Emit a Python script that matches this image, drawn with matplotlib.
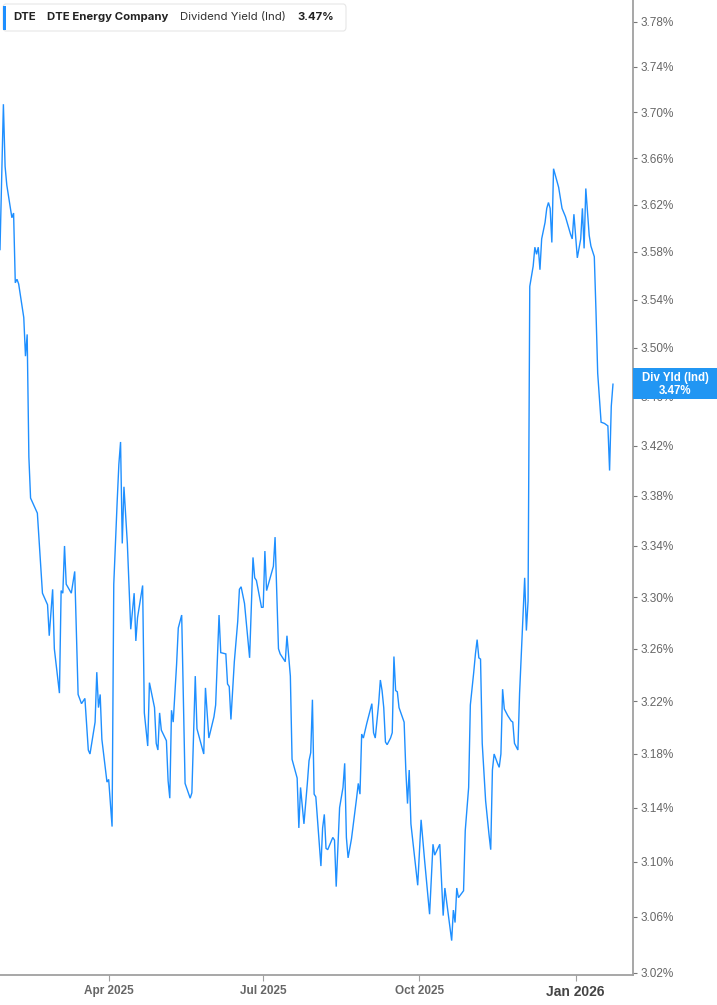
import matplotlib
matplotlib.use("Agg")
import matplotlib.pyplot as plt
import matplotlib.ticker as mticker
from matplotlib.patches import Rectangle, FancyBboxPatch
import pandas as pd
import datetime as dt

plt.rcParams['font.family'] = ['Liberation Sans Narrow', 'Liberation Sans', 'DejaVu Sans']

dates = [
    "2025-01-27", "2025-01-29", "2025-01-30", "2025-01-31", "2025-02-03", "2025-02-04", "2025-02-05", "2025-02-06",
    "2025-02-07", "2025-02-10", "2025-02-11", "2025-02-12", "2025-02-13", "2025-02-14", "2025-02-18", "2025-02-21",
    "2025-02-24", "2025-02-25", "2025-02-27", "2025-02-28", "2025-03-03", "2025-03-04", "2025-03-05", "2025-03-06",
    "2025-03-07", "2025-03-10", "2025-03-12", "2025-03-14", "2025-03-16", "2025-03-18", "2025-03-20", "2025-03-21",
    "2025-03-24", "2025-03-25", "2025-03-26", "2025-03-27", "2025-03-28", "2025-03-31", "2025-04-01", "2025-04-03",
    "2025-04-04", "2025-04-06", "2025-04-07", "2025-04-08", "2025-04-09", "2025-04-10", "2025-04-12", "2025-04-14",
    "2025-04-16", "2025-04-17", "2025-04-18", "2025-04-21", "2025-04-22", "2025-04-24", "2025-04-25", "2025-04-28",
    "2025-04-29", "2025-04-30", "2025-05-01", "2025-05-02", "2025-05-05", "2025-05-06", "2025-05-07", "2025-05-08",
    "2025-05-09", "2025-05-11", "2025-05-12", "2025-05-14", "2025-05-16", "2025-05-19", "2025-05-20", "2025-05-22",
    "2025-05-23", "2025-05-27", "2025-05-28", "2025-05-30", "2025-06-02", "2025-06-03", "2025-06-05", "2025-06-06",
    "2025-06-09", "2025-06-10", "2025-06-11", "2025-06-12", "2025-06-14", "2025-06-16", "2025-06-17", "2025-06-18",
    "2025-06-20", "2025-06-23", "2025-06-25", "2025-06-26", "2025-06-27", "2025-06-30", "2025-07-01", "2025-07-02",
    "2025-07-03", "2025-07-07", "2025-07-08", "2025-07-10", "2025-07-11", "2025-07-14", "2025-07-15", "2025-07-17",
    "2025-07-18", "2025-07-21", "2025-07-22", "2025-07-23", "2025-07-25", "2025-07-27", "2025-07-28", "2025-07-29",
    "2025-07-30", "2025-07-31", "2025-08-01", "2025-08-04", "2025-08-05", "2025-08-06", "2025-08-07", "2025-08-08",
    "2025-08-10", "2025-08-11", "2025-08-12", "2025-08-13", "2025-08-15", "2025-08-17", "2025-08-18", "2025-08-19",
    "2025-08-20", "2025-08-22", "2025-08-25", "2025-08-26", "2025-08-27", "2025-08-28", "2025-08-29", "2025-08-31",
    "2025-09-03", "2025-09-04", "2025-09-05", "2025-09-07", "2025-09-08", "2025-09-09", "2025-09-10", "2025-09-11",
    "2025-09-12", "2025-09-14", "2025-09-15", "2025-09-16", "2025-09-17", "2025-09-18", "2025-09-19", "2025-09-22",
    "2025-09-23", "2025-09-24", "2025-09-25", "2025-09-26", "2025-09-30", "2025-10-02", "2025-10-04", "2025-10-07",
    "2025-10-09", "2025-10-10", "2025-10-13", "2025-10-15", "2025-10-16", "2025-10-20", "2025-10-21", "2025-10-22",
    "2025-10-23", "2025-10-24", "2025-10-27", "2025-10-28", "2025-10-30", "2025-10-31", "2025-11-02", "2025-11-03",
    "2025-11-04", "2025-11-05", "2025-11-06", "2025-11-07", "2025-11-09", "2025-11-11", "2025-11-12", "2025-11-13",
    "2025-11-14", "2025-11-16", "2025-11-17", "2025-11-18", "2025-11-19", "2025-11-20", "2025-11-22", "2025-11-24",
    "2025-11-25", "2025-11-26", "2025-11-28", "2025-11-29", "2025-12-02", "2025-12-03", "2025-12-04", "2025-12-05",
    "2025-12-07", "2025-12-08", "2025-12-09", "2025-12-10", "2025-12-11", "2025-12-12", "2025-12-14", "2025-12-15",
    "2025-12-16", "2025-12-17", "2025-12-18", "2025-12-19", "2025-12-22", "2025-12-24", "2025-12-26", "2025-12-29",
    "2025-12-30", "2025-12-31", "2026-01-02", "2026-01-04", "2026-01-05", "2026-01-06", "2026-01-07", "2026-01-09",
    "2026-01-10", "2026-01-12", "2026-01-13", "2026-01-14", "2026-01-16", "2026-01-18", "2026-01-20", "2026-01-21",
    "2026-01-22", "2026-01-23",
]

div_yield = [
    3.582, 3.707, 3.653, 3.637, 3.609, 3.613, 3.554, 3.557,
    3.553, 3.525, 3.493, 3.511, 3.411, 3.378, 3.366, 3.303,
    3.294, 3.270, 3.306, 3.260, 3.226, 3.305, 3.303, 3.340,
    3.310, 3.303, 3.320, 3.225, 3.218, 3.222, 3.183, 3.180,
    3.204, 3.242, 3.215, 3.225, 3.191, 3.159, 3.161, 3.126,
    3.310, 3.375, 3.405, 3.423, 3.342, 3.387, 3.342, 3.275,
    3.303, 3.266, 3.284, 3.309, 3.211, 3.186, 3.234, 3.215,
    3.188, 3.183, 3.211, 3.198, 3.190, 3.160, 3.147, 3.213,
    3.204, 3.248, 3.276, 3.286, 3.158, 3.147, 3.151, 3.239,
    3.199, 3.180, 3.230, 3.192, 3.208, 3.217, 3.286, 3.257,
    3.256, 3.233, 3.231, 3.206, 3.250, 3.281, 3.306, 3.308,
    3.295, 3.253, 3.331, 3.315, 3.313, 3.292, 3.292, 3.336,
    3.305, 3.324, 3.347, 3.260, 3.256, 3.250, 3.270, 3.239,
    3.176, 3.162, 3.125, 3.155, 3.128, 3.158, 3.175, 3.181,
    3.221, 3.150, 3.148, 3.097, 3.125, 3.135, 3.110, 3.109,
    3.115, 3.118, 3.116, 3.082, 3.140, 3.155, 3.173, 3.118,
    3.103, 3.117, 3.147, 3.158, 3.150, 3.195, 3.192, 3.203,
    3.218, 3.196, 3.192, 3.218, 3.236, 3.228, 3.215, 3.189,
    3.187, 3.192, 3.196, 3.254, 3.228, 3.227, 3.215, 3.204,
    3.168, 3.143, 3.168, 3.128, 3.083, 3.131, 3.102, 3.062,
    3.113, 3.105, 3.113, 3.061, 3.081, 3.043, 3.065, 3.056,
    3.081, 3.074, 3.079, 3.123, 3.155, 3.217, 3.242, 3.256,
    3.267, 3.253, 3.252, 3.188, 3.145, 3.120, 3.109, 3.168,
    3.180, 3.173, 3.170, 3.180, 3.229, 3.214, 3.209, 3.205,
    3.204, 3.188, 3.183, 3.226, 3.315, 3.274, 3.297, 3.551,
    3.568, 3.584, 3.578, 3.584, 3.565, 3.591, 3.605, 3.617,
    3.622, 3.617, 3.588, 3.651, 3.635, 3.617, 3.610, 3.595,
    3.591, 3.612, 3.575, 3.591, 3.617, 3.583, 3.634, 3.594,
    3.585, 3.576, 3.530, 3.479, 3.439, 3.438, 3.436, 3.400,
    3.452, 3.470,
]

y_ticks = [3.02, 3.06, 3.10, 3.14, 3.18, 3.22, 3.26, 3.30, 3.34, 3.38,
           3.42, 3.46, 3.50, 3.54, 3.58, 3.62, 3.66, 3.70, 3.74, 3.78]
x_tick_dates = ["2025-04-01", "2025-07-01", "2025-10-01", "2026-01-01"]
x_tick_labels = ["Apr 2025", "Jul 2025", "Oct 2025", "Jan 2026"]

ticker_sym = "DTE"
company = "DTE Energy Company"
metric = "Dividend Yield (Ind)"
last_label = "3.47%"

LINE = "#1E8FFF"
GREY = "#666666"

W, H = 717, 1005
fig = plt.figure(figsize=(W / 100, H / 100), dpi=100)
ax = fig.add_axes([0, 30 / H, 632.5 / W, 1 - 30 / H])

x = pd.to_datetime(dates)
ax.plot(x, div_yield, color=LINE, lw=1.0, solid_joinstyle='miter')

ax.set_yscale('log')
ax.set_ylim(3.0184, 3.7993)
ax.set_xlim(dt.datetime(2025, 1, 27), dt.datetime(2026, 2, 3, 12))

ax.yaxis.set_major_locator(mticker.FixedLocator(y_ticks))
ax.yaxis.set_minor_locator(mticker.NullLocator())
ax.yaxis.set_major_formatter(mticker.FixedFormatter([f"{v:.2f}%" for v in y_ticks]))
ax.yaxis.set_minor_formatter(mticker.NullFormatter())
ax.yaxis.tick_right()

ax.set_xticks(pd.to_datetime(x_tick_dates))
ax.set_xticklabels(x_tick_labels)

for s in ['left', 'top']:
    ax.spines[s].set_visible(False)
for s in ['right', 'bottom']:
    ax.spines[s].set_color('#a0a0a0')
    ax.spines[s].set_linewidth(1.3)

ax.tick_params(axis='y', which='major', direction='out', length=3, width=0.8,
               color='#777777', labelsize=8.5, labelcolor=GREY, pad=3)
ax.tick_params(axis='x', which='major', direction='out', length=4, width=0.8,
               color='#a0a0a0', labelsize=8.5, labelcolor=GREY, pad=3)
for lbl in ax.get_xticklabels():
    lbl.set_fontweight('bold')
ax.get_xticklabels()[-1].set_color('#444444')
ax.get_xticklabels()[-1].set_fontsize(10)

# header box
hdr = FancyBboxPatch((3 / W, 1 - 31 / H), 343 / W, 27 / H,
                     boxstyle="round,pad=0,rounding_size=0.004",
                     transform=fig.transFigure, facecolor='white',
                     edgecolor='#e6e6e6', lw=0.8, zorder=10)
fig.add_artist(hdr)
fig.add_artist(Rectangle((3 / W, 1 - 30 / H), 3 / W, 24 / H, transform=fig.transFigure,
                         facecolor=LINE, edgecolor='none', zorder=11))
hfont = ['Inter', 'DejaVu Sans']
ty = 1 - 17 / H
fig.text(13 / W, ty, ticker_sym, fontsize=8.2, fontweight='bold', color='#222222',
         va='center', family=hfont, zorder=12)
fig.text(47 / W, ty, company, fontsize=8.2, fontweight='bold', color='#222222',
         va='center', family=hfont, zorder=12)
fig.text(180 / W, ty, metric, fontsize=8.2, color='#333333',
         va='center', family=hfont, zorder=12)
fig.text(297 / W, ty, last_label, fontsize=8.2, fontweight='bold', color='#222222',
         va='center', family=hfont, zorder=12)

# last value label on the axis
fig.add_artist(Rectangle((633 / W, 1 - 399 / H), 84 / W, 31 / H, transform=fig.transFigure,
                         facecolor='#2196F3', edgecolor='none', zorder=10))
fig.text(675 / W, 1 - 378.5 / H, "Div Yld (Ind)", fontsize=8.3, fontweight='bold', color='white',
         ha='center', va='center', family=['Liberation Sans', 'DejaVu Sans'], zorder=11)
fig.text(675 / W, 1 - 390.5 / H, last_label, fontsize=8.3, fontweight='bold', color='white',
         ha='center', va='center', family=['Liberation Sans', 'DejaVu Sans'], zorder=11)

fig.savefig("out.png", dpi=100)
